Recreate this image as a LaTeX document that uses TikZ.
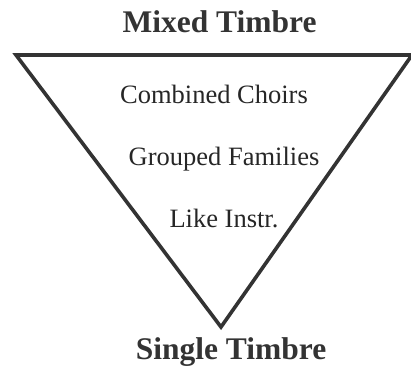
\documentclass[tikz,border=0pt]{standalone}
\usepackage{fontspec}
\setmainfont{Liberation Serif}
\usetikzlibrary{calc}
\tikzstyle{edge}=[line width=3.6pt, draw=black!80, line join=miter]
\tikzstyle{head}=[font=\fontsize{31.5}{32}\selectfont\bfseries, text=black!80, anchor=base]
\tikzstyle{level}=[font=\fontsize{26.5}{28}\selectfont, text=black!85, anchor=base]
\begin{document}
\begin{tikzpicture}[x=1pt,y=-1pt]
\useasboundingbox (0,0) rectangle (411,367);
\coordinate (tl) at (16,55);
\coordinate (tr) at (412,55);
\coordinate (apex) at (221,327);
\draw[edge] (tr) -- (tl) -- (apex) -- (tr);
\node[head] (mixed) at (219.5,32) {Mixed Timbre};
\node[head] (single) at (231,359) {Single Timbre};
\node[level] (choirs) at (214,103) {Combined Choirs};
\node[level] (families) at (224,165) {Grouped Families};
\node[level] (like) at (224,227) {Like Instr.};
\end{tikzpicture}
\end{document}
